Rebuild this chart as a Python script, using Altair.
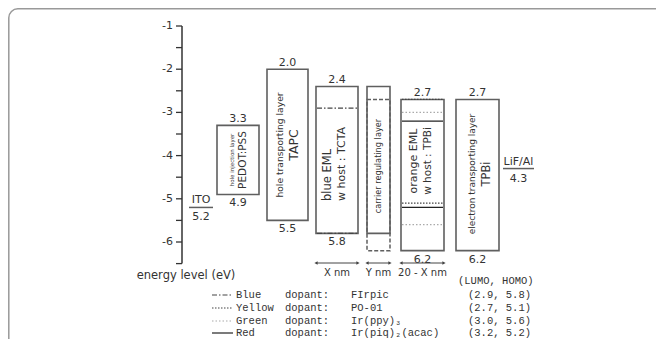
import altair as alt
import pandas as pd

# ---------------- data (eV magnitudes) ----------------
layer_keys = ["PEDOT", "TAPC", "TCTA", "CRL", "OEML", "ETL"]
layer_lumo = [3.3, 2.0, 2.4, 2.4, 2.7, 2.7]
layer_homo = [4.9, 5.5, 5.8, 5.8, 6.2, 6.2]
crl_tpbi_lumo, crl_tpbi_homo = 2.7, 6.2

electrode_names = ["ITO", "LiF/Al"]
electrode_levels = [5.2, 4.3]

dopant_names = ["Blue", "Yellow", "Green", "Red"]
dopant_materials = ["FIrpic", "PO-01", "Ir(ppy)\u2083", "Ir(piq)\u2082(acac)"]
dopant_lumo = [2.9, 2.7, 3.0, 3.2]
dopant_homo = [5.8, 5.1, 5.6, 5.2]
dopant_host = ["TCTA", "OEML", "OEML", "OEML"]

tick_values = [-1.0, -1.5, -2.0, -2.5, -3.0, -3.5, -4.0, -4.5, -5.0, -5.5, -6.0, -6.5]
tick_labels = ["-1", "", "-2", "", "-3", "", "-4", "", "-5", "", "-6", ""]

# ---------------- layout (page pixels) ----------------
layer_x0 = [217, 267, 316, 367, 401, 456]
layer_x1 = [259, 308, 358, 390, 444, 499]
electrode_x0 = [189, 503]
electrode_x1 = [213, 534]
axis_x = 182
dopant_style = {
    "Blue": dict(color="#444", dash=[5, 2, 1.5, 2]),
    "Yellow": dict(color="#444", dash=[1.5, 1.5]),
    "Green": dict(color="#aaa", dash=[1.5, 2]),
    "Red": dict(color="#222", dash=None),
}
FONT = "DejaVu Sans"
MONO = "Liberation Mono"
TXT = "#333"
BOX = "#5f5f5f"

XS = alt.Scale(domain=[8, 656], nice=False, zero=False)
YS = alt.Scale(domain=[-8.24537, -0.58333], nice=False, zero=False)


def X(f):
    return alt.X(f + ":Q", scale=XS, axis=None)


def X2(f):
    return alt.X2(f + ":Q")


def Y(f):
    return alt.Y(f + ":Q", scale=YS, axis=None)


def Y2(f):
    return alt.Y2(f + ":Q")


def py(page_y):
    return alt.value(page_y - 8)


def rule(style, **kw):
    if style["dash"] is None:
        return alt.Chart(kw.pop("data")).mark_rule(color=style["color"], strokeWidth=1.2)
    return alt.Chart(kw.pop("data")).mark_rule(color=style["color"], strokeWidth=1.2,
                                               strokeDash=style["dash"])


key_of = dict(zip(layer_keys, range(len(layer_keys))))
layers = pd.DataFrame({
    "key": layer_keys,
    "x0": layer_x0, "x1": layer_x1,
    "xc": [(a + b) / 2 for a, b in zip(layer_x0, layer_x1)],
    "top": [-v for v in layer_lumo], "bot": [-v for v in layer_homo],
    "lumo": [f"{v:.1f}" for v in layer_lumo], "homo": [f"{v:.1f}" for v in layer_homo],
})

parts = []

# frame
parts.append(alt.Chart(pd.DataFrame({"a": [0]})).mark_rect(
    fill="transparent", stroke="#999", strokeWidth=1.5, cornerRadius=9).encode(
    x=alt.value(0.8), x2=alt.value(900), y=alt.value(0.8), y2=alt.value(900)))

# boxes
crl = layers[layers.key == "CRL"].copy()
crl["top"] = -crl_tpbi_lumo
crl["bot"] = -crl_tpbi_homo
parts.append(alt.Chart(crl).mark_rect(fill="transparent", stroke=BOX, strokeWidth=1.5,
                                      strokeDash=[4, 2]).encode(
    x=X("x0"), x2=X2("x1"), y=Y("top"), y2=Y2("bot")))
parts.append(alt.Chart(layers).mark_rect(fill="transparent", stroke=BOX, strokeWidth=1.6).encode(
    x=X("x0"), x2=X2("x1"), y=Y("top"), y2=Y2("bot")))

# level labels
lab = layers[layers.key != "CRL"]
parts.append(alt.Chart(lab).mark_text(font=FONT, fontSize=11, color=TXT, baseline="alphabetic", dy=-3).encode(
    x=X("xc"), y=Y("top"), text="lumo:N"))
parts.append(alt.Chart(lab).mark_text(font=FONT, fontSize=11, color=TXT, baseline="top", dy=3).encode(
    x=X("xc"), y=Y("bot"), text="homo:N"))

# electrodes
el = pd.DataFrame({"name": electrode_names, "x0": electrode_x0, "x1": electrode_x1,
                   "xc": [(a + b) / 2 for a, b in zip(electrode_x0, electrode_x1)],
                   "y": [-v for v in electrode_levels],
                   "val": [f"{v:.1f}" for v in electrode_levels]})
parts.append(alt.Chart(el).mark_rule(color=BOX, strokeWidth=1.5).encode(x=X("x0"), x2=X2("x1"), y=Y("y")))
parts.append(alt.Chart(el).mark_text(font=FONT, fontSize=11, color=TXT, baseline="alphabetic", dy=-4).encode(
    x=X("xc"), y=Y("y"), text="name:N"))
parts.append(alt.Chart(el).mark_text(font=FONT, fontSize=11, color=TXT, baseline="top", dy=4).encode(
    x=X("xc"), y=Y("y"), text="val:N"))

# dopant levels inside hosts
for i, name in enumerate(dopant_names):
    k = key_of[dopant_host[i]]
    d = pd.DataFrame({"x0": [layer_x0[k] + 1] * 2, "x1": [layer_x1[k] - 1] * 2,
                      "y": [-dopant_lumo[i], -dopant_homo[i]]})
    parts.append(rule(dopant_style[name], data=d).encode(x=X("x0"), x2=X2("x1"), y=Y("y")))

# rotated texts inside boxes
rot = pd.DataFrame({
    "t": ["hole injection layer", "PEDOT:PSS", "hole transporting layer", "TAPC",
          "blue EML", "w host : TCTA", "carrier regulating layer",
          "orange EML", "w host : TPBi", "electron transporting layer", "TPBi"],
    "x": [232, 243, 280, 294, 328, 342, 379, 414, 428, 472, 487],
    "yc": [160, 160, 145, 145, 201, 201, 166, 161, 161, 174, 174],
    "al": ["center", "center", "center", "center", "left", "left", "center",
           "center", "center", "center", "center"],
    "fs": [5.5, 10.5, 9.2, 12.5, 11.5, 11, 8.2, 11, 10.5, 9, 11.5],
})
for _, r in rot.iterrows():
    parts.append(alt.Chart(pd.DataFrame({"t": [r.t], "x": [r.x]})).mark_text(
        font=FONT, fontSize=float(r.fs), color=TXT, angle=270, align=r.al, baseline="middle").encode(
        x=X("x"), y=py(r.yc), text="t:N"))

# y axis
ax = pd.DataFrame({"v": tick_values, "lab": tick_labels,
                   "xa": [axis_x] * len(tick_values), "xt": [axis_x - 6] * len(tick_values)})
parts.append(alt.Chart(pd.DataFrame({"x": [axis_x], "a": [-1.0], "b": [-6.5]})).mark_rule(
    color="#333", strokeWidth=1.5).encode(x=X("x"), y=Y("a"), y2=Y2("b")))
parts.append(alt.Chart(ax).mark_rule(color="#333", strokeWidth=1.3).encode(x=X("xt"), x2=X2("xa"), y=Y("v")))
parts.append(alt.Chart(ax).mark_text(font=FONT, fontSize=11, color=TXT, align="right", baseline="middle", dx=-9).encode(
    x=X("xa"), y=Y("v"), text="lab:N"))
parts.append(alt.Chart(pd.DataFrame({"t": ["energy level (eV)"]})).mark_text(
    font=FONT, fontSize=11.5, color=TXT, align="center", baseline="middle").encode(
    x=alt.value(186 - 8), y=py(276), text="t:N"))

# thickness arrows
arr_keys = ["TCTA", "CRL", "OEML"]
arr_text = ["X nm", "Y nm", "20 - X nm"]
ar = pd.DataFrame({"x0": [layer_x0[key_of[k]] for k in arr_keys],
                   "x1": [layer_x1[key_of[k]] for k in arr_keys], "t": arr_text})
ar["xc"] = (ar.x0 + ar.x1) / 2
parts.append(alt.Chart(ar).mark_rule(color="#444", strokeWidth=1).encode(x=X("x0"), x2=X2("x1"), y=py(263)))
parts.append(alt.Chart(ar).mark_point(shape="triangle-left", filled=True, size=14, color="#444", opacity=1).encode(
    x=X("x0"), y=py(263)))
parts.append(alt.Chart(ar).mark_point(shape="triangle-right", filled=True, size=14, color="#444", opacity=1).encode(
    x=X("x1"), y=py(263)))
parts.append(alt.Chart(ar).mark_text(font=FONT, fontSize=10, color=TXT, baseline="middle").encode(
    x=X("xc"), y=py(273), text="t:N"))

# legend
row_y = [295, 308, 321, 333]
leg = pd.DataFrame({"name": dopant_names, "mat": dopant_materials,
                    "pair": [f"({a:.1f}, {b:.1f})" for a, b in zip(dopant_lumo, dopant_homo)],
                    "dop": ["dopant:"] * 4})
for i, name in enumerate(dopant_names):
    parts.append(rule(dopant_style[name], data=pd.DataFrame({"a": [212], "b": [233]})).encode(
        x=X("a"), x2=X2("b"), y=py(row_y[i])))
    for col, xpos in [("name", 236), ("dop", 285), ("mat", 351), ("pair", 468)]:
        rr = leg.iloc[[i]].copy()
        rr["xx"] = xpos
        parts.append(alt.Chart(rr).mark_text(font=MONO, fontSize=10.5, color=TXT, align="left",
                                            baseline="middle").encode(
            x=X("xx"), y=py(row_y[i]), text=f"{col}:N"))
parts.append(alt.Chart(pd.DataFrame({"t": ["(LUMO, HOMO)"], "xx": [458]})).mark_text(
    font=MONO, fontSize=10.5, color=TXT, align="left", baseline="middle").encode(
    x=X("xx"), y=py(281), text="t:N"))

chart = alt.layer(*parts).properties(
    width=648, height=331, padding=0, autosize=alt.AutoSizeParams(type="none"),
).configure_view(stroke=None)

chart.save("out.html", embed_options={"renderer": "svg", "actions": False})
